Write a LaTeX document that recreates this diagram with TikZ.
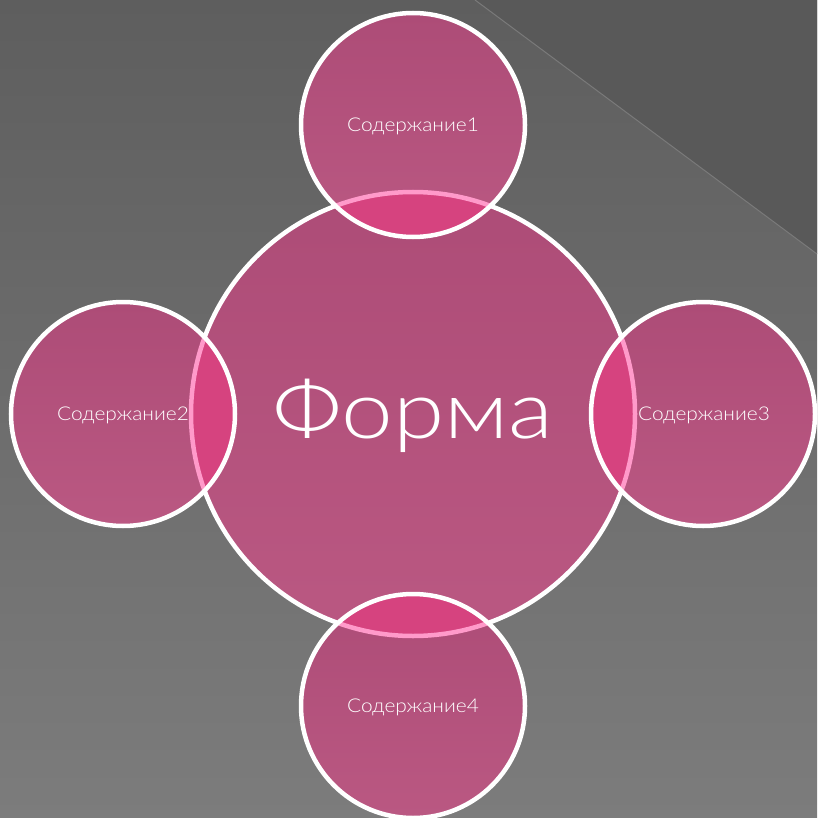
\documentclass[tikz,border=0pt]{standalone}
\usepackage{fontspec}
\setmainfont{Lato}
\newfontfamily\thinfont{Lato Light}
\begin{document}
\begin{tikzpicture}[x=1pt,y=-1pt,
  bubble/.style={top color=circtop,bottom color=circbot},
  rim/.style={draw=white,line width=4.5pt},
  lbl/.style={text=white,font=\thinfont\fontsize{19}{21}\selectfont,xscale=1.1,transform shape}]
\definecolor{circtop}{HTML}{AD4C77}
\definecolor{circbot}{HTML}{BA5882}
\definecolor{overlap}{HTML}{D6437F}
\definecolor{pinkrim}{HTML}{FF9ACA}
\definecolor{bgtop}{HTML}{5E5E5E}
\definecolor{bgbot}{HTML}{7C7C7C}
\definecolor{corner}{HTML}{595959}
\definecolor{cornerline}{HTML}{7A7A7A}
\useasboundingbox (0,0) rectangle (817,818);
\shade[top color=bgtop,bottom color=bgbot] (0,0) rectangle (817,818);
\fill[corner] (475,0) -- (817,0) -- (817,254) -- cycle;
\draw[cornerline,line width=1pt] (475,0) -- (817,254);
% centres
\coordinate (cB) at (413,414);
\coordinate (c1) at (413,125);
\coordinate (c2) at (123,414);
\coordinate (c3) at (703,414);
\coordinate (c4) at (413,706);
% big circle
\shade[bubble] (cB) circle[radius=222];
\draw[rim] (cB) circle[radius=222];
% small circles
\foreach \c in {c1,c2,c3,c4}{
  \shade[bubble] (\c) circle[radius=112];
  \begin{scope}
    \clip (\c) circle[radius=112];
    \fill[overlap] (cB) circle[radius=222];
    \draw[pinkrim,line width=4.5pt] (cB) circle[radius=222];
  \end{scope}
  \draw[rim] (\c) circle[radius=112];
}
\node[text=white,font=\thinfont\fontsize{80}{86}\selectfont,xscale=1.16,transform shape] (forma) at (413,416) {Форма};
\node[lbl] (s1) at (413,126) {Содержание1};
\node[lbl] (s2) at (123,415) {Содержание2};
\node[lbl] (s3) at (704,415) {Содержание3};
\node[lbl] (s4) at (413,707) {Содержание4};
\end{tikzpicture}
\end{document}
